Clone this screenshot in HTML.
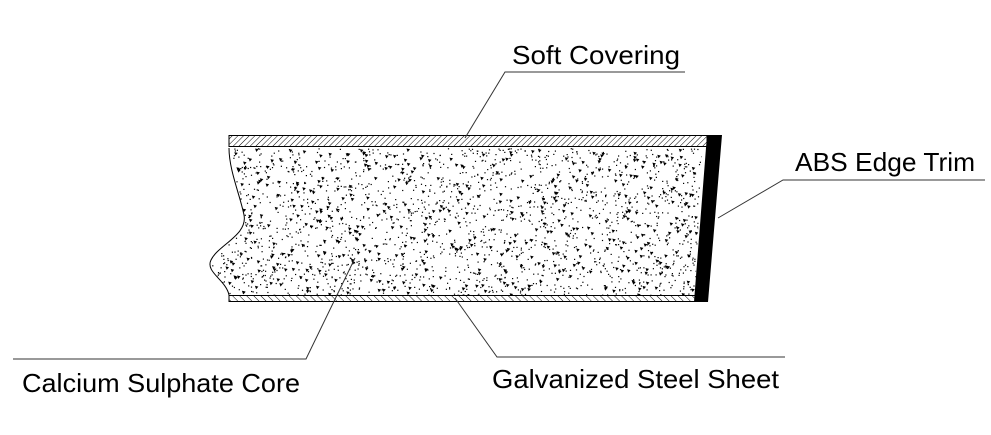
<!DOCTYPE html>
<html><head><style>
body{margin:0;background:#fff;}
svg{display:block}
text{font-family:"Liberation Sans",sans-serif;font-size:26px;fill:#000}
</style></head><body>
<svg width="991" height="435" viewBox="0 0 991 435" xmlns="http://www.w3.org/2000/svg">
<defs>
<pattern id="h1" width="4" height="4" patternUnits="userSpaceOnUse" patternTransform="rotate(45)">
<line x1="0" y1="0" x2="0" y2="4" stroke="#000" stroke-width="1"/></pattern>
<pattern id="h2" width="5" height="5" patternUnits="userSpaceOnUse" patternTransform="rotate(-45)">
<line x1="0" y1="0" x2="0" y2="5" stroke="#000" stroke-width="1"/></pattern>
<clipPath id="core"><path d="M229,148 L702,148 L695,295 L229,295 C226,280 205,272 211,260 C218,245 248,235 244,215 C240,195 229,170 229,148 Z"/></clipPath>
</defs>
<rect x="229" y="135.5" width="478" height="11" fill="url(#h1)" stroke="#000" stroke-width="1"/>
<rect x="229" y="295.5" width="466" height="6" fill="url(#h2)" stroke="#000" stroke-width="1"/>
<g clip-path="url(#core)" id="dots"></g>
<path d="M229,148 C229,170 240,195 244,215 C248,235 218,245 211,260 C205,272 226,280 229,295" fill="none" stroke="#000" stroke-width="1"/>
<polygon points="707,135 722,135 708,302 694,302" fill="#000"/>
<g stroke="#333" stroke-width="1" fill="none">
<polyline points="465,138 505,72 685,72"/>
<polyline points="718,218 783,180 985,180"/>
<polyline points="355,258 306,359 13,359"/>
<polyline points="455,298 497,357 785,357"/>
</g>
<text x="512" y="64" textLength="168" lengthAdjust="spacingAndGlyphs">Soft Covering</text>
<text x="795" y="171" textLength="180" lengthAdjust="spacingAndGlyphs">ABS Edge Trim</text>
<text x="22" y="392" textLength="278" lengthAdjust="spacingAndGlyphs">Calcium Sulphate Core</text>
<text x="492" y="388" textLength="287" lengthAdjust="spacingAndGlyphs">Galvanized Steel Sheet</text>
</svg>
<script>
(function(){
var g=document.getElementById('dots'),s=12345,h='';
function r(){s=(s*1103515245+12345)%2147483648;return s/2147483648;}
for(var i=0;i<1900;i++){var x=205+r()*500,y=148+r()*147;h+='<rect x="'+x.toFixed(1)+'" y="'+y.toFixed(1)+'" width="1.2" height="1.2" fill="#000"/>';}
for(var i=0;i<550;i++){var x=205+r()*500,y=148+r()*147;h+='<polygon points="'+x.toFixed(1)+','+y.toFixed(1)+' '+(x+3.5).toFixed(1)+','+(y+0.8).toFixed(1)+' '+(x+1.2).toFixed(1)+','+(y+3.5).toFixed(1)+'" fill="#000"/>';}
g.innerHTML=h;
})();
</script>
</body></html>
